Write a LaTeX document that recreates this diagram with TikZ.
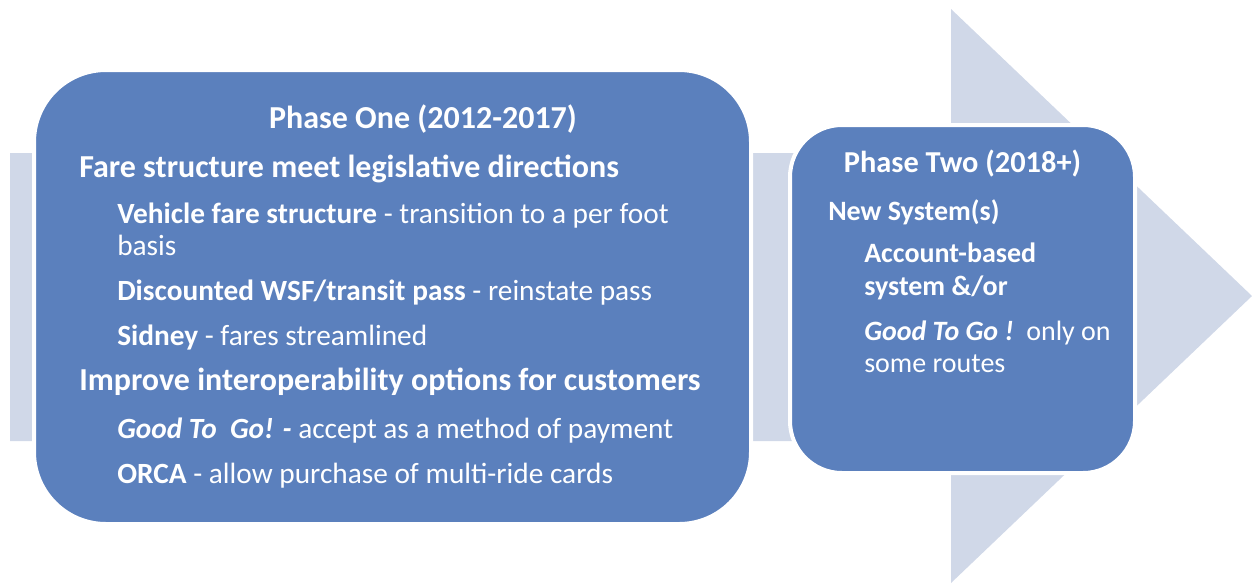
\documentclass[tikz,border=0pt]{standalone}
\usepackage{fontspec}
\setmainfont{Carlito}
\usepackage{tikz}
\usetikzlibrary{positioning}
\definecolor{phaseblue}{RGB}{91,128,189}
\definecolor{arrowgray}{RGB}{208,216,232}
\tikzset{
phase/.style={draw=white, line width=3pt, fill=phaseblue, rounded corners=54pt, inner sep=0pt}, % blue boxes
txt/.style={anchor=base west, inner sep=0pt, text=white, font=\fontsize{22}{26}\selectfont}, % white lines of text
big/.style={txt, font=\fontsize{24}{28}\selectfont\bfseries},
small/.style={txt, font=\fontsize{21}{25}\selectfont},
head/.style={txt, anchor=base},
}
\begin{document}
\begin{tikzpicture}[x=0.75pt, y=-0.75pt]
    \useasboundingbox (0,0) rectangle (1252,583);
    % big arrow behind the boxes
    \fill[arrowgray] (10,153) -- (951,153) -- (951,9) -- (1252,296) -- (951,583) -- (951,441) -- (10,441) -- cycle;
    \node[phase, minimum width=537.75pt, minimum height=340.5pt] (one) at (392.5,297) {};
    \node[phase, rounded corners=39pt, minimum width=258.75pt, minimum height=261pt] (two) at (962.5,299) {};
    % phase one
    \node[head, font=\fontsize{24}{28}\selectfont\bfseries] (onehead) at (423,128) {Phase One (2012-2017)};
    \node[big] (fare) at (79,177) {Fare structure meet legislative directions};
    \node[txt] (vehicle) at (117,223) {\textbf{Vehicle fare structure} - transition to a per foot};
    \node[txt] (basis) at (117,255) {basis};
    \node[txt] (wsf) at (117,300) {\textbf{Discounted WSF/transit pass} - reinstate pass};
    \node[txt] (sidney) at (117,345) {\textbf{Sidney} - fares streamlined};
    \node[big] (improve) at (79,390) {Improve interoperability options for customers};
    \node[txt] (gtg) at (117,438) {\textbf{\textit{Good To\ \ Go! -}} accept as a method of payment};
    \node[txt] (orca) at (117,483) {\textbf{ORCA} - allow purchase of multi-ride cards};
    % phase two
    \node[head, font=\fontsize{22.8}{27}\selectfont\bfseries] (twohead) at (962.5,172) {Phase Two (2018+)};
    \node[small] (newsys) at (828,220) {\textbf{New System(s)}};
    \node[small] (account) at (864,262) {\textbf{Account-based}};
    \node[small] (sysor) at (864,295) {\textbf{system \&/or}};
    \node[small] (gtgtwo) at (864,340) {\textbf{\textit{Good To Go !}}\ \ only on};
    \node[small] (routes) at (864,372) {some routes};
\end{tikzpicture}
\end{document}
